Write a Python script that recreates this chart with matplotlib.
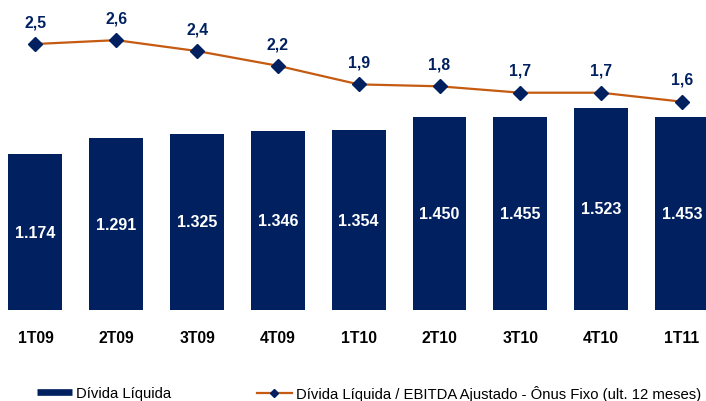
import matplotlib
matplotlib.use('Agg')
import matplotlib.pyplot as plt
from matplotlib.lines import Line2D

categories = ['1T09', '2T09', '3T09', '4T09', '1T10', '2T10', '3T10', '4T10', '1T11']
divida_liquida = [1174, 1291, 1325, 1346, 1354, 1450, 1455, 1523, 1453]
divida_ebitda = [2.50, 2.56, 2.39, 2.16, 1.87, 1.84, 1.74, 1.74, 1.60]

NAVY = '#002060'
ORANGE = '#C55A11'
plt.rcParams['font.family'] = ['Liberation Sans', 'DejaVu Sans']

fig = plt.figure(figsize=(7.06, 4.02), dpi=100)
ax = fig.add_axes([0, 1 - 311 / 402, 1, 311 / 402])
x = list(range(len(categories)))
ax.bar(x, divida_liquida, width=0.668, color=NAVY, zorder=2)
ax.set_xlim(-0.439, 8.298)
ax.set_ylim(0, 2340.5)
for xi, v in zip(x, divida_liquida):
    ax.text(xi, v / 2, f'{v:,}'.replace(',', '.'), ha='center', va='center',
            color='white', fontsize=11.5, fontweight='bold', zorder=3)
ax.set_xticks(x)
ax.set_xticklabels(categories, fontsize=11.3, fontweight='bold', color='black')
ax.tick_params(axis='x', length=0, pad=14.5)
for s in ax.spines.values():
    s.set_visible(False)

ax2 = ax.twinx()
ax.set_yticks([])
ax2.plot(x, divida_ebitda, color=ORANGE, lw=1.6, marker='D', ms=7.5,
         mfc=NAVY, mec=NAVY, zorder=3)
ax2.set_ylim(-1.650, 3.202)
ax2.set_xlim(-0.439, 8.298)
for xi, v in zip(x, divida_ebitda):
    ax2.annotate(f'{v:.1f}'.replace('.', ','), (xi, v), xytext=(0, 16),
                 textcoords='offset points', ha='center', va='center',
                 color=NAVY, fontsize=11.3, fontweight='bold')
ax2.set_yticks([])
for s in ax2.spines.values():
    s.set_visible(False)

h1 = Line2D([], [], color=NAVY, lw=4.8, solid_capstyle='butt')
h2 = Line2D([], [], color=ORANGE, lw=1.6, marker='D', ms=4.5, mfc=NAVY, mec=NAVY)
legkw = dict(loc='center left', frameon=False, borderpad=0, borderaxespad=0,
             handlelength=2.35, handletextpad=0.25, fontsize=10.7)
fig.legend([h1], ['Dívida Líquida'], bbox_to_anchor=(37 / 706, 1 - 394 / 402), **legkw)
fig.legend([h2], ['Dívida Líquida / EBITDA Ajustado - Ônus Fixo (ult. 12 meses)'],
           bbox_to_anchor=(257 / 706, 1 - 394 / 402), **legkw)

fig.savefig('out.png', dpi=100)
